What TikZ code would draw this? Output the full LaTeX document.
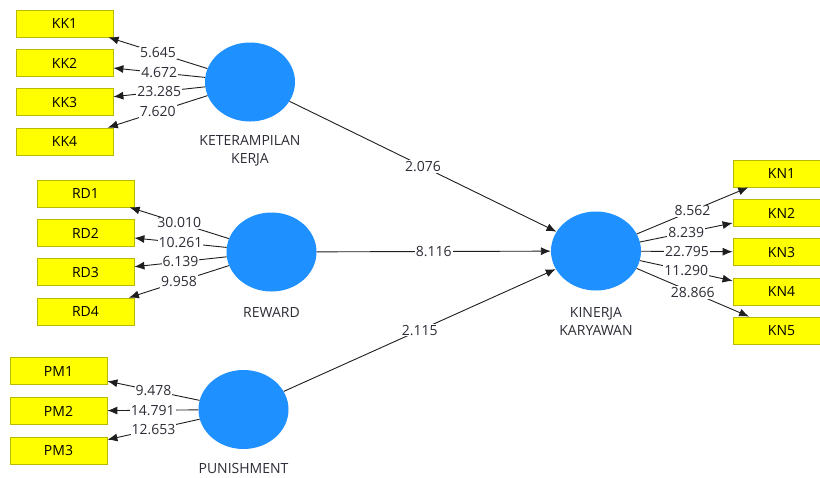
\documentclass[tikz,border=0pt]{standalone}
\usepackage{fontspec}
\setmainfont{Open Sans}
\usetikzlibrary{shapes.geometric,arrows.meta}
\definecolor{lvblue}{RGB}{30,144,255}
\definecolor{boxyel}{RGB}{255,255,0}
\definecolor{boxedge}{RGB}{185,185,0}
\definecolor{txt}{RGB}{45,45,55}
\tikzset{
  ind/.style={draw=boxedge, fill=boxyel, minimum width=97pt, minimum height=27pt, inner sep=0pt, line width=0.8pt, font=\fontsize{14}{16}\selectfont, text=black},
  lv/.style={ellipse, fill=lvblue, minimum width=90pt, minimum height=79pt, inner sep=0pt},
  lvname/.style={align=center, font=\fontsize{14}{17.5}\selectfont, text=txt},
  conn/.style={draw={rgb,255:red,30;green,30;blue,30}, line width=0.9pt, -{Latex[length=10pt,width=8pt]}},
  wt/.style={fill=white, inner sep=1pt, font=\fontsize{14}{16}\selectfont, text=txt}
}
\begin{document}
\begin{tikzpicture}[x=1pt,y=-1pt]
\useasboundingbox[fill=white] (0,0) rectangle (820,477);
% latent variables
\node[lv] (kk) at (250,82) {};
\node[lv] (rd) at (271.5,252) {};
\node[lv] (pm) at (243.5,409.5) {};
\node[lv] (kn) at (596,251) {};
\node[lvname] (kkname) at (250,151) {KETERAMPILAN\\KERJA};
\node[lvname] (rdname) at (271.5,312) {REWARD};
\node[lvname] (pmname) at (243.5,468) {PUNISHMENT};
\node[lvname] (knname) at (596,321.5) {KINERJA\\KARYAWAN};
% indicators
\node[ind] (kk1) at (64.5,23.5) {KK1};
\node[ind] (kk2) at (64.5,63) {KK2};
\node[ind] (kk3) at (64.5,102) {KK3};
\node[ind] (kk4) at (64.5,141.5) {KK4};
\node[ind] (rd1) at (85.5,193.5) {RD1};
\node[ind] (rd2) at (85.5,233) {RD2};
\node[ind] (rd3) at (85.5,272) {RD3};
\node[ind] (rd4) at (85.5,311.5) {RD4};
\node[ind] (pm1) at (58.5,371) {PM1};
\node[ind] (pm2) at (58.5,411) {PM2};
\node[ind] (pm3) at (58.5,450.5) {PM3};
\node[ind] (kn1) at (781.5,173.5) {KN1};
\node[ind] (kn2) at (781.5,213) {KN2};
\node[ind] (kn3) at (781.5,252) {KN3};
\node[ind] (kn4) at (781.5,291.5) {KN4};
\node[ind] (kn5) at (781.5,330.5) {KN5};
% outer loadings
\draw[conn] (kk) -- node[wt]{5.645} (kk1);
\draw[conn] (kk) -- node[wt]{4.672} (kk2);
\draw[conn] (kk) -- node[wt]{23.285} (kk3);
\draw[conn] (kk) -- node[wt]{7.620} (kk4);
\draw[conn] (rd) -- node[wt]{30.010} (rd1);
\draw[conn] (rd) -- node[wt]{10.261} (rd2);
\draw[conn] (rd) -- node[wt]{6.139} (rd3);
\draw[conn] (rd) -- node[wt]{9.958} (rd4);
\draw[conn] (pm) -- node[wt]{9.478} (pm1);
\draw[conn] (pm) -- node[wt]{14.791} (pm2);
\draw[conn] (pm) -- node[wt]{12.653} (pm3);
\draw[conn] (kn) -- node[wt]{8.562} (kn1);
\draw[conn] (kn) -- node[wt]{8.239} (kn2);
\draw[conn] (kn) -- node[wt]{22.795} (kn3);
\draw[conn] (kn) -- node[wt]{11.290} (kn4);
\draw[conn] (kn) -- node[wt]{28.866} (kn5);
% inner model
\draw[conn] (kk) -- node[wt]{2.076} (kn);
\draw[conn] (rd) -- node[wt]{8.116} (kn);
\draw[conn] (pm) -- node[wt]{2.115} (kn);
\end{tikzpicture}
\end{document}
